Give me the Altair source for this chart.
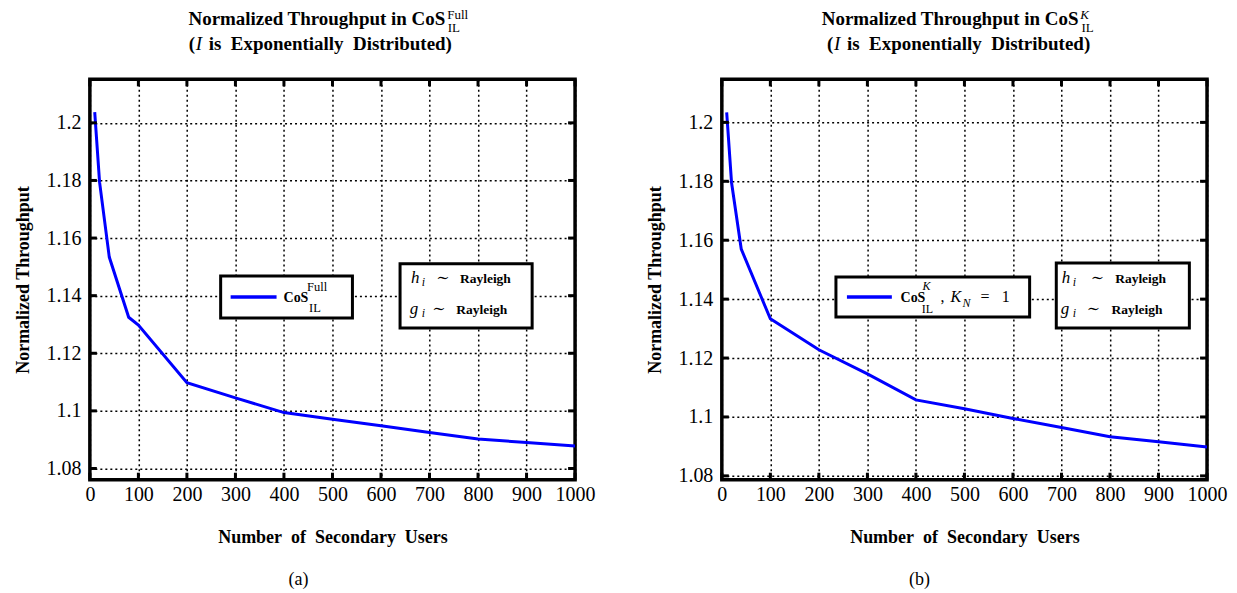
import altair as alt
import pandas as pd

# ---- data ----
users_a = [10, 20, 40, 80, 100, 200, 300, 400, 500, 600, 700, 800, 900, 1000]
thr_a = [1.2037, 1.1794, 1.1534, 1.1325, 1.1298, 1.1098, 1.1045, 1.0994,
         1.0971, 1.0948, 1.0925, 1.0902, 1.0890, 1.0878]
users_b = [10, 20, 40, 100, 200, 300, 400, 500, 600, 700, 800, 900, 1000]
thr_b = [1.2034, 1.1796, 1.1570, 1.1333, 1.1228, 1.1146, 1.1058, 1.1028,
         1.0995, 1.0964, 1.0933, 1.0916, 1.0898]
x_ticks = [0, 100, 200, 300, 400, 500, 600, 700, 800, 900, 1000]
y_ticks = [1.08, 1.10, 1.12, 1.14, 1.16, 1.18, 1.20]

SERIF = '"Liberation Serif", "Times New Roman", Times, "DejaVu Serif", serif'
SP = "\u2002"
W, H = 486, 401
dummy = pd.DataFrame({"d": [0]})


def T(s, x, y, size, bold=False, italic=False, align="left"):
    return alt.Chart(dummy).mark_text(
        text=s, align=align, baseline="alphabetic", fontSize=size,
        font=SERIF, fontWeight="bold" if bold else "normal",
        fontStyle="italic" if italic else "normal", color="black",
    ).encode(x=alt.value(x), y=alt.value(y))


def box(x1, x2, y1, y2):
    return alt.Chart(dummy).mark_rect(
        fill="white", stroke="black", strokeWidth=3
    ).encode(x=alt.value(x1), x2=alt.value(x2), y=alt.value(y1), y2=alt.value(y2))


def panel(users, thr, ydom, extra):
    df = pd.DataFrame({"users": users, "thr": thr})
    xs = alt.Scale(domain=[0, 1000], nice=False, zero=False)
    ys = alt.Scale(domain=ydom, nice=False, zero=False)
    grid = dict(grid=True, gridColor="black", gridDash=[2, 3], gridWidth=1.5,
                gridOpacity=1, ticks=False, domain=False)
    xax = alt.Axis(values=x_ticks, format="d",
                   title=SP.join(["Number", "of", "Secondary", "Users"]),
                   labelFont=SERIF, labelFontSize=20, labelPadding=5,
                   labelColor="black", titleFont=SERIF, titleFontSize=18,
                   titleFontWeight="bold", titleColor="black", titlePadding=24,
                   labelFlush=False, **grid)
    yax = alt.Axis(values=y_ticks, format=".2~f", title="Normalized Throughput",
                   labelFont=SERIF, labelFontSize=20, labelPadding=9,
                   labelColor="black", titleFont=SERIF, titleFontSize=18,
                   titleFontWeight="bold", titleColor="black", titlePadding=13,
                   labelFlush=False, **grid)
    X = alt.X("users:Q", scale=xs, axis=xax)
    Y = alt.Y("thr:Q", scale=ys, axis=yax)

    line = alt.Chart(df).mark_line(color="#0000ff", strokeWidth=3, clip=True).encode(x=X, y=Y)
    ytk = pd.DataFrame({"thr": y_ticks})
    xtk = pd.DataFrame({"users": x_ticks})
    tl = alt.Chart(ytk).mark_rule(color="black", strokeWidth=3).encode(
        y=Y, x=alt.value(0), x2=alt.value(7))
    tr = alt.Chart(ytk).mark_rule(color="black", strokeWidth=3).encode(
        y=Y, x=alt.value(W - 7), x2=alt.value(W))
    tb = alt.Chart(xtk).mark_rule(color="black", strokeWidth=3).encode(
        x=X, y=alt.value(H - 7), y2=alt.value(H))
    tt = alt.Chart(xtk).mark_rule(color="black", strokeWidth=3).encode(
        x=X, y=alt.value(0), y2=alt.value(7))
    layers = [line, tl, tr, tb, tt] + extra
    return alt.layer(*layers).properties(width=W, height=H)


def legend_line(x1, x2, y):
    return alt.Chart(dummy).mark_rule(color="#0000ff", strokeWidth=3.5).encode(
        x=alt.value(x1), x2=alt.value(x2), y=alt.value(y))


SIM = "\u223c"

extra_a = [
    T("Normalized Throughput in CoS", 356, -54, 19, bold=True, align="right"),
    T("Full", 358, -60, 13),
    T("IL", 358.5, -47, 13),
    T("(", 99, -29, 19, bold=True),
    T("I", 106, -29, 19, italic=True),
    T(SP.join(["is", "Exponentially", "Distributed)"]), 119, -29, 19, bold=True),
    box(131, 263, 197, 239),
    legend_line(141, 187, 218),
    T("CoS", 194, 223, 14, bold=True),
    T("Full", 217.5, 212, 12.5),
    T("IL", 219.5, 233, 12.5),
    box(310.7, 443, 184.7, 249),
    T("h", 321.7, 203.5, 17, italic=True),
    T("i", 332.5, 207, 12, italic=True),
    T(SIM, 347, 204, 16),
    T("Rayleigh", 370.7, 203.5, 13.5, bold=True),
    T("g", 320.5, 235, 17, italic=True),
    T("i", 332.5, 238.5, 12, italic=True),
    T(SIM, 343, 235.5, 16),
    T("Rayleigh", 367, 235, 13.5, bold=True),
    T("(a)", 209, 506, 18, align="center"),
]

extra_b = [
    T("Normalized Throughput in CoS", 357.3, -54, 19, bold=True, align="right"),
    T("K", 359, -60, 13, italic=True),
    T("IL", 360.3, -47, 13),
    T("(", 105.3, -29, 19, bold=True),
    T("I", 112.3, -29, 19, italic=True),
    T(SP.join(["is", "Exponentially", "Distributed)"]), 125.3, -29, 19, bold=True),
    box(114.3, 308.3, 198, 238),
    legend_line(125.3, 170.3, 218),
    T("CoS", 179, 223, 14, bold=True),
    T("K", 201, 211, 12, italic=True),
    T("IL", 200.3, 234, 12),
    T(",", 219, 223, 16),
    T("K", 229, 223, 16, italic=True),
    T("N", 241, 228.5, 12, italic=True),
    T("=", 259, 223, 16),
    T("1", 280.3, 223, 16),
    box(335, 468.3, 184, 249),
    T("h", 340.6, 203.5, 17, italic=True),
    T("i", 351.5, 207, 12, italic=True),
    T(SIM, 369.5, 204, 16),
    T("Rayleigh", 394, 203.5, 13.5, bold=True),
    T("g", 339.5, 235, 17, italic=True),
    T("i", 351.5, 238.5, 12, italic=True),
    T(SIM, 365.5, 235.5, 16),
    T("Rayleigh", 390.3, 235, 13.5, bold=True),
    T("(b)", 198, 506, 18, align="center"),
]

left = panel(users_a, thr_a, [1.0761, 1.2151], extra_a)
right = panel(users_b, thr_b, [1.0787, 1.2146], extra_b)

chart = alt.hconcat(left, right, spacing=147).properties(
    bounds="flush",
    padding={"left": 5, "top": -1, "right": 0, "bottom": 0},
    background="white",
).configure_view(stroke="black", strokeWidth=3.5)

chart.save("out.html", embed_options={"renderer": "svg", "actions": False})
